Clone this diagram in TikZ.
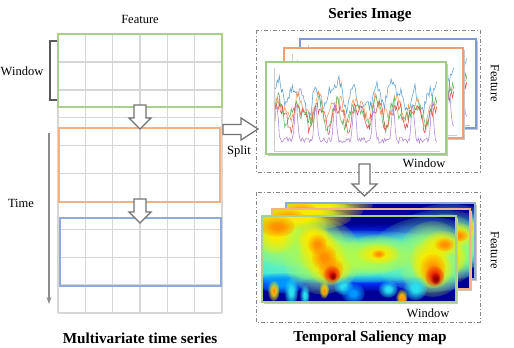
\documentclass[tikz,border=0pt]{standalone}
\usepackage{fontspec}
\setmainfont{Liberation Serif}
\usetikzlibrary{fadings,arrows.meta}

\definecolor{gridgray}{RGB}{214,214,214}
\definecolor{wgreen}{RGB}{169,209,142}
\definecolor{worange}{RGB}{244,177,131}
\definecolor{wblue}{RGB}{143,170,220}
\definecolor{fgreen}{RGB}{160,204,135}
\definecolor{forange}{RGB}{237,160,115}
\definecolor{fblue}{RGB}{125,155,210}
\definecolor{arrowgray}{RGB}{115,115,115}
\definecolor{boxgray}{RGB}{135,135,135}
\definecolor{pblue}{RGB}{95,160,210}
\definecolor{porange}{RGB}{245,155,90}
\definecolor{pgreen}{RGB}{100,180,100}
\definecolor{pred}{RGB}{220,85,75}
\definecolor{ppurple}{RGB}{175,135,215}
\definecolor{jdarkblue}{RGB}{0,0,150}
\definecolor{jblue}{RGB}{0,40,240}
\definecolor{jlblue}{RGB}{0,150,255}
\definecolor{jcyan}{RGB}{40,225,240}
\definecolor{jmint}{RGB}{110,245,180}
\definecolor{jgreen}{RGB}{175,250,80}
\definecolor{jyellow}{RGB}{250,235,0}
\definecolor{jorange}{RGB}{255,145,0}
\definecolor{jred}{RGB}{235,30,0}
\definecolor{jdarkred}{RGB}{150,0,0}

\pgfdeclareradialshading{softrad}{\pgfpoint{0bp}{0bp}}{color(0bp)=(white); color(6bp)=(white); color(25bp)=(black); color(50bp)=(black)}

\begin{tikzfadingfrompicture}[name=softblob]
  \shade[shading=softrad] (0,0) circle (1);
\end{tikzfadingfrompicture}

\tikzset{
  gridline/.style={draw=gridgray, line width=1.4pt},
  winbox/.style={line width=1.5pt},
  dashbox/.style={draw=boxgray, line width=0.8pt, dash pattern=on 4pt off 2pt on 1pt off 2pt},
  hollow/.style={draw=arrowgray, line width=1.3pt, fill=white, line join=miter},
  plotline/.style={line width=0.55pt},
  boldlabel/.style={font=\bfseries\fontsize{15.2}{18}\selectfont},
}

\newcommand\blob[5]{\fill[#1, path fading=softblob] (#2,#3) ellipse [x radius=#4, y radius=#5];}
\newcommand\band[4]{\shade[top color=#3, bottom color=#4] (-0.01,#1) rectangle (1.01,#2);}

\newcommand\serieslines[4]{%
  \pgfmathsetseed{5}%
  \draw[pblue,plotline] plot[variable=\t,domain=0:1,samples=150] ({(#1)+(#3)*\t},{(#2)-(#4)*(0.66+0.1*sin(3000*\t+40)+0.08*sin(4700*\t)+0.08*sin(1100*\t+30)+0.07*rand)});
  \pgfmathsetseed{6}%
  \draw[porange,plotline] plot[variable=\t,domain=0:1,samples=150] ({(#1)+(#3)*\t},{(#2)-(#4)*(0.5+0.12*sin(3000*\t+10)+0.06*sin(5300*\t+70)+0.08*rand)});
  \pgfmathsetseed{7}%
  \draw[pgreen,plotline] plot[variable=\t,domain=0:1,samples=150] ({(#1)+(#3)*\t},{(#2)-(#4)*(0.44+0.12*sin(3000*\t+25)+0.07*sin(4100*\t+10)+0.08*rand)});
  \pgfmathsetseed{8}%
  \draw[pred,plotline] plot[variable=\t,domain=0:1,samples=150] ({(#1)+(#3)*\t},{(#2)-(#4)*(0.42+0.13*sin(3000*\t-5)+0.06*sin(6100*\t+40)+0.07*rand)});
  \pgfmathsetseed{9}%
  \draw[ppurple,plotline] plot[variable=\t,domain=0:1,samples=150] ({(#1)+(#3)*\t},{(#2)-(#4)*(0.1+0.45*max(0,sin(3000*\t+60))^4+0.04*rand)});
}

\newcommand\seriesframe[5]{%
  \fill[black!22] (#1+2,#2+2) rectangle (#3+2,#4+2);
  \fill[white] (#1,#2) rectangle (#3,#4);
  \begin{scope}
    \clip (#1,#2) rectangle (#3,#4);
    \draw[black!20, line width=0.4pt] (#1+8,#2+6) -- (#1+8,#4-3) -- (#3-6,#4-3);
    \serieslines{#1+9}{#4-6}{#3-#1-18}{#4-#2-14}
  \end{scope}
  \draw[#5, line width=2pt] (#1,#2) rectangle (#3,#4);
}

\newcommand\heatcontent{%
  \fill[jdarkblue] (-0.01,-0.01) rectangle (1.01,0.1);
  \band{0.09}{0.2}{jdarkblue}{jblue}
  \band{0.19}{0.27}{jblue}{jlblue}
  \band{0.26}{0.33}{jlblue}{jcyan}
  \fill[jcyan] (-0.01,0.32) rectangle (1.01,0.67);
  \band{0.66}{0.73}{jcyan}{jlblue}
  \band{0.72}{0.8}{jlblue}{jblue}
  \band{0.79}{0.88}{jblue}{jdarkblue}
  \fill[jdarkblue] (-0.01,0.87) rectangle (1.01,1.01);
  % broad washes
  \blob{jmint}{0.5}{0.47}{0.6}{0.3}
  \blob{jmint}{0.13}{0.35}{0.3}{0.42}
  \blob{jmint}{0.86}{0.45}{0.3}{0.44}
  \blob{jgreen}{0.47}{0.5}{0.3}{0.2}
  \blob{jlblue}{0.1}{0.78}{0.12}{0.12}
  % left top
  \blob{jgreen}{0.12}{0.2}{0.22}{0.38}
  \blob{jyellow}{0.16}{0.03}{0.3}{0.14}
  \blob{jyellow}{0.07}{0.2}{0.11}{0.24}
  \blob{jorange}{0.08}{0.12}{0.09}{0.12}
  % diagonal blob
  \blob{jgreen}{0.31}{0.47}{0.2}{0.44}
  \blob{jyellow}{0.26}{0.24}{0.08}{0.14}
  \blob{jyellow}{0.28}{0.32}{0.1}{0.18}
  \blob{jyellow}{0.31}{0.45}{0.12}{0.22}
  \blob{jyellow}{0.35}{0.6}{0.11}{0.2}
  \blob{jorange}{0.285}{0.33}{0.05}{0.12}
  \blob{jorange}{0.32}{0.48}{0.065}{0.15}
  \blob{jorange}{0.355}{0.62}{0.065}{0.14}
  \blob{jred}{0.36}{0.68}{0.045}{0.1}
  \blob{jdarkred}{0.365}{0.7}{0.02}{0.05}
  % middle blob
  \blob{jgreen}{0.59}{0.44}{0.18}{0.22}
  \blob{jyellow}{0.6}{0.44}{0.11}{0.12}
  \blob{jorange}{0.6}{0.44}{0.035}{0.05}
  % right blob
  \blob{jgreen}{0.88}{0.5}{0.18}{0.44}
  \blob{jyellow}{0.93}{0.32}{0.1}{0.15}
  \blob{jyellow}{0.86}{0.5}{0.1}{0.22}
  \blob{jyellow}{0.88}{0.62}{0.1}{0.22}
  \blob{jorange}{0.94}{0.33}{0.05}{0.08}
  \blob{jorange}{0.88}{0.62}{0.065}{0.18}
  \blob{jred}{0.89}{0.7}{0.05}{0.12}
  \blob{jdarkred}{0.895}{0.73}{0.025}{0.07}
  % bottom spikes
  \blob{jcyan}{0.15}{0.88}{0.035}{0.16}
  \blob{jcyan}{0.22}{0.92}{0.025}{0.12}
  \blob{jcyan}{0.42}{0.82}{0.05}{0.1}
  \blob{jlblue}{0.47}{0.9}{0.06}{0.12}
  \blob{jcyan}{0.65}{0.85}{0.05}{0.1}
  \blob{jcyan}{0.79}{0.84}{0.06}{0.14}
  \blob{jyellow}{0.06}{0.87}{0.03}{0.12}
  \blob{jorange}{0.06}{0.87}{0.015}{0.06}
  \blob{jyellow}{0.32}{0.86}{0.025}{0.1}
  \blob{jorange}{0.32}{0.87}{0.015}{0.06}
  \blob{jyellow}{0.72}{0.95}{0.03}{0.1}
  \blob{jorange}{0.72}{0.96}{0.02}{0.07}
}

\newcommand\heatframe[5]{%
  \fill[black!22] (#1+2,#2+2) rectangle (#3+2,#4+2);
  \pgfmathsetmacro\hw{#3-#1}%
  \pgfmathsetmacro\hh{#4-#2}%
  \begin{scope}[shift={(#1pt,-#2pt)}, x=\hw pt, y=-\hh pt]
    \begin{scope}
      \clip (0,0) rectangle (1,1);
      \heatcontent
    \end{scope}
  \end{scope}
  \draw[#5, line width=1.5pt] (#1,#2) rectangle (#3,#4);
}

\begin{document}
\begin{tikzpicture}[x=1pt, y=-1pt, font=\fontsize{12.5}{14}\selectfont]
\useasboundingbox (0,0) rectangle (514,348);

% ---- left grid ----
\foreach \i in {0,...,6} \draw[gridline] ({58+164/6*\i},34) -- ({58+164/6*\i},313);
\foreach \j in {0,...,10} \draw[gridline] (58,{34+27.9*\j}) -- (222,{34+27.9*\j});

\draw[winbox, wgreen] (58,34) rectangle (222,107);
\draw[winbox, worange] (59,128) rectangle (220,202);
\draw[winbox, wblue] (60,218) rectangle (221,286);

\draw[hollow] (134,105) -- (146,105) -- (146,118) -- (151,118) -- (140,129) -- (129,118) -- (134,118) -- cycle;
\draw[hollow] (134,199) -- (146,199) -- (146,212) -- (151,212) -- (140,223) -- (129,212) -- (134,212) -- cycle;

\draw[black!65, line width=1.2pt] (57,41) -- (50,41) -- (50,100) -- (57,100);
\draw[black!45, line width=1.5pt, -{Stealth[length=7pt,width=5pt]}] (49,133) -- (49,304);

\node (feat) at (140,19) {Feature};
\node (win) at (22,71) {Window};
\node (time) at (21,203) {Time};
\node[boldlabel] (mts) at (140,338) {Multivariate time series};

% ---- split arrow ----
\draw[hollow] (223,124.5) -- (241,124.5) -- (241,118) -- (258,129) -- (241,140) -- (241,134.5) -- (223,134.5) -- cycle;
\node (split) at (239,151) {Split};

% ---- series image ----
\draw[dashbox] (256,30) rectangle (480,172);
\node[boldlabel] (si) at (370,15) {Series Image};
\seriesframe{300}{39}{476}{128}{fblue}
\seriesframe{284}{48}{463}{138}{forange}
\seriesframe{266}{62}{446}{154}{fgreen}
\node (win2) at (424,163) {Window};
\node[rotate=-90] (feat2) at (495,83) {Feature};

% ---- down arrow ----
\draw[hollow] (359,164) -- (370,164) -- (370,184) -- (377,184) -- (364.5,196) -- (352,184) -- (359,184) -- cycle;

% ---- saliency map ----
\draw[dashbox] (256,192) rectangle (480,322);
\heatframe{286}{203}{475}{279}{wblue}
\heatframe{272}{209}{470}{289}{worange}
\heatframe{262}{216}{456}{302}{wgreen}
\node (win3) at (428,313) {Window};
\node[rotate=-90] (feat3) at (495,250) {Feature};
\node[boldlabel] (tsm) at (370,338) {Temporal Saliency map};
\end{tikzpicture}
\end{document}
